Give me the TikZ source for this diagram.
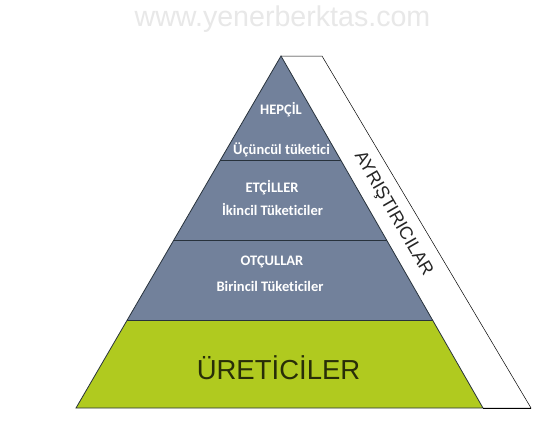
\documentclass[tikz,border=0pt]{standalone}
\usepackage{fontspec}
\setmainfont{Liberation Sans}
\newfontfamily\calib[Ligatures=NoCommon]{Carlito}
\usetikzlibrary{calc}
\definecolor{layerblue}{RGB}{114,129,155}
\definecolor{layergreen}{RGB}{176,202,31}
\definecolor{edgedark}{RGB}{40,50,60}
\definecolor{greentext}{RGB}{40,46,8}
\definecolor{wmgray}{RGB}{232,232,232}
\tikzset{
  layerlab/.style={text=white, font=\calib\bfseries\fontsize{14.5}{16}\selectfont, inner sep=0pt, anchor=base},
  layerline/.style={draw=edgedark, line width=0.8pt},
}
\begin{document}
\begin{tikzpicture}[x=1pt,y=-1pt]
\useasboundingbox (0,0) rectangle (553,426);
\fill[white] (0,0) rectangle (553,426);
% key points
\coordinate (apex) at (281,56);
\coordinate (bl) at (76,408);
\coordinate (br) at (483,408);
\coordinate (bandtop) at (322,56);
\coordinate (bandbot) at (531,408);
\coordinate (l1) at ($(apex)!0.2955!(bl)$);
\coordinate (r1) at ($(apex)!0.2955!(br)$);
\coordinate (l2) at ($(apex)!0.5227!(bl)$);
\coordinate (r2) at ($(apex)!0.5227!(br)$);
\coordinate (l3) at ($(apex)!0.75!(bl)$);
\coordinate (r3) at ($(apex)!0.75!(br)$);
% watermark
\node[text=wmgray, font=\fontsize{28.6}{30}\selectfont, inner sep=0pt] (wm) at (282.5,19) {www.yenerberktas.com};
% decomposer band
\draw[black, line width=0.5pt, fill=white] (apex) -- (bandtop) -- (bandbot) -- (br);
% layers
\fill[layerblue] (apex) -- (r3) -- (l3) -- cycle;
\fill[layergreen] (l3) -- (r3) -- (br) -- (bl) -- cycle;
\draw[layerline] (l1) -- (r1);
\draw[layerline] (l2) -- (r2);
\draw[layerline] (l3) -- (r3);
\draw[layerline] (apex) -- (br) -- (bl) -- cycle;
\draw[black, line width=0.5pt] (br) -- (bandbot);
% labels
\node[layerlab] (hep) at (281,114) {HEPÇİL};
\node[layerlab] (ucu) at (281.5,154) {Üçüncül tüketici};
\node[layerlab] (etc) at (272,192) {ETÇİLLER};
\node[layerlab] (iki) at (272.5,215) {İkincil Tüketiciler};
\node[layerlab] (otc) at (272,265) {OTÇULLAR};
\node[layerlab] (bir) at (270,291) {Birincil Tüketiciler};
\node[text=greentext, font=\fontsize{27.5}{30}\selectfont, inner sep=0pt] (ure) at (278.5,368) {ÜRETİCİLER};
\node[text=black!85, font=\fontsize{18}{20}\selectfont, inner sep=0pt, rotate=-60] (ayr) at (393,214) {AYRIŞTIRICILAR};
\end{tikzpicture}
\end{document}
